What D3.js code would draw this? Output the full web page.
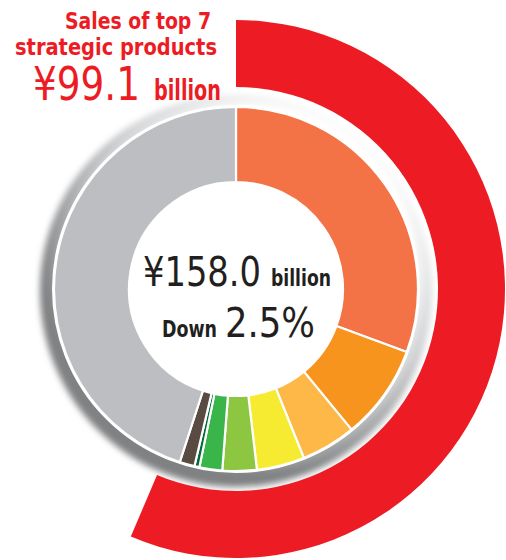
<!DOCTYPE html>
<html><head><meta charset="utf-8">
<script src="https://cdn.jsdelivr.net/npm/d3@7"></script>
<style>html,body{margin:0;padding:0;background:#fff;} svg{display:block;}</style>
</head><body>
<script>
// ---- data ----
const categories = ["Product 1","Product 2","Product 3","Product 4","Product 5","Product 6","Product 7","Product 8","Other products"];
const salesValues = [48.4, 13.3, 7.7, 6.7, 4.8, 3.2, 0.7, 2.1, 71.1]; // ¥ billion, total 158.0
const segmentColors = ["#F37346","#F7941E","#FDB848","#F6EB30","#8DC641","#3AB54A","#006B38","#594A42","#BCBEC1"];
const highlightArcValue = [89.1]; // extent of red arc on same scale
const titleLines = ["Sales of top 7", "strategic products"];
const titleAmount = "¥99.1";
const unitLabel = "billion";
const totalLabel = "¥158.0";
const downLabel = "Down";
const changeLabel = "2.5%";

const W = 506, H = 560, cx = 236, cy = 289;
const svg = d3.select("body").append("svg").attr("width", W).attr("height", H);
const defs = svg.append("defs");

const total = d3.sum(salesValues);
const angle = d3.scaleLinear().domain([0, total]).range([0, 2 * Math.PI]);

// shadow / bevel ring
const rg = defs.append("radialGradient").attr("id","ringGrad")
  .attr("cx","0.56").attr("cy","0.42").attr("r","0.55");
rg.append("stop").attr("offset","0.70").attr("stop-color","#ffffff");
rg.append("stop").attr("offset","0.84").attr("stop-color","#d4d5d7");
rg.append("stop").attr("offset","1").attr("stop-color","#808183");
const blur = defs.append("filter").attr("id","soft").attr("x","-20%").attr("y","-20%").attr("width","140%").attr("height","140%");
blur.append("feGaussianBlur").attr("stdDeviation", 3);

const g = svg.append("g").attr("transform", `translate(${cx},${cy})`);
g.append("circle").attr("r", 196).attr("cy", 2).attr("fill","url(#ringGrad)").attr("filter","url(#soft)");

// red highlight arc
const redArc = d3.arc().innerRadius(202).outerRadius(269);
g.append("path").datum({startAngle: 0, endAngle: angle(highlightArcValue[0])})
  .attr("d", redArc).attr("fill", "#ED1C24");

// donut
const pie = d3.pie().sort(null).value(d => d)(salesValues);
const arc = d3.arc().innerRadius(107).outerRadius(182);
g.selectAll("path.seg").data(pie).join("path").attr("class","seg")
  .attr("d", arc).attr("fill", (d,i) => segmentColors[i])
  .attr("stroke","#fff").attr("stroke-width",2.2).attr("stroke-linejoin","round");
g.append("circle").attr("r",183).attr("fill","none").attr("stroke","#fff").attr("stroke-width",2);
g.append("circle").attr("r",106).attr("fill","#fff");

// text helper
const fontC = "'Liberation Sans Narrow','Arial Narrow','DejaVu Sans Condensed',sans-serif";
function label(txt, x, y, len, size, weight, color) {
  return svg.append("text").attr("x", x).attr("y", y)
    .attr("font-family", fontC).attr("font-size", size).attr("font-weight", weight)
    .attr("fill", color).attr("textLength", len).attr("lengthAdjust", "spacingAndGlyphs")
    .text(txt);
}
const red = "#ED1C24", dark = "#231F20";
label(titleLines[0], 65, 29, 146, 23, "bold", red);
label(titleLines[1], 15, 55, 202, 23, "bold", red);
label(titleAmount, 33, 100, 107, 47, "normal", red);
label(unitLabel, 154, 100, 67, 29, "bold", red);

label(totalLabel, 143, 286, 118, 40, "normal", dark);
label(unitLabel, 271, 286, 60, 23, "bold", dark);
label(downLabel, 162, 337, 55, 23, "bold", dark);
label(changeLabel, 225, 337, 90, 41, "normal", dark);
</script>
</body></html>
